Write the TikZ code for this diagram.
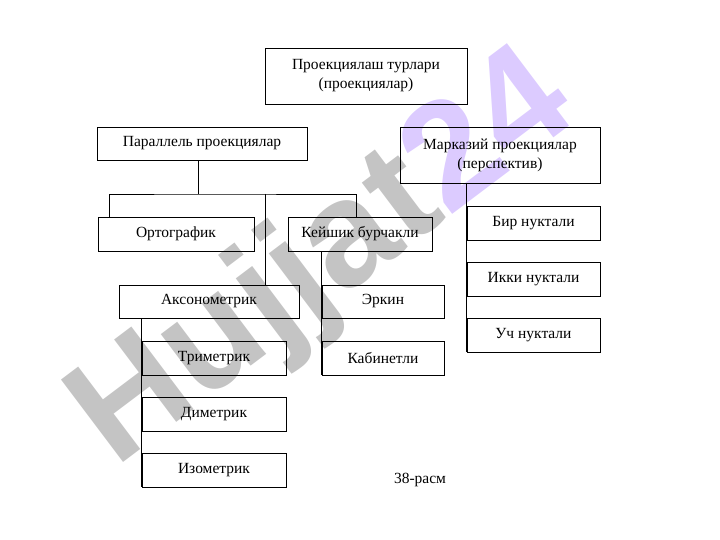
\documentclass[tikz,border=0pt]{standalone}
\usepackage{fontspec}
\setmainfont{Liberation Serif}
\newfontfamily\wm{Liberation Sans}
\begin{document}
\begin{tikzpicture}[x=1pt,y=-1pt,
  bx/.style={draw,line width=0.8pt,font=\fontsize{15.5}{19}\selectfont,align=center},
  ln/.style={line width=0.8pt}]
\useasboundingbox (0,0) rectangle (720,540);
\node[rotate=37,font=\wm\bfseries\fontsize{150}{150}\selectfont,inner sep=0] (wmk) at (325,262)
  {\textcolor[HTML]{C4C4C4}{Hujjat}\textcolor[HTML]{DCCBFF}{24}};
\newcommand\bxx[6]{\node[bx,minimum width=#4-#2,minimum height=#5-#3,inner sep=0] (#1) at ({(#2+#4)/2},{(#3+#5)/2}) {#6};}
\bxx{top}{265}{48}{467}{104}{Проекциялаш турлари\\(проекциялар)}
\bxx{par}{97}{127}{307}{160}{Параллель проекциялар}
\bxx{mar}{400}{127}{600}{183}{Марказий проекциялар\\(перспектив)}
\bxx{ort}{98}{217}{254}{251}{Ортографик}
\bxx{key}{288}{217}{432}{251}{Кейшик бурчакли}
\bxx{aks}{119}{285}{299}{318}{Аксонометрик}
\bxx{erk}{322}{285}{444}{318}{Эркин}
\bxx{kab}{322}{341}{444}{375}{Кабинетли}
\bxx{tri}{142}{341}{286}{375}{Триметрик}
\bxx{dim}{142}{397}{286}{431}{Диметрик}
\bxx{izo}{142}{453}{286}{487}{Изометрик}
\bxx{bir}{467}{206}{600}{240}{Бир нуктали}
\bxx{ikk}{467}{262}{600}{296}{Икки нуктали}
\bxx{uch}{467}{318}{600}{352}{Уч нуктали}
\node[font=\fontsize{15.5}{19}\selectfont] (cap) at (420,480) {38-расм};
\draw[ln] (par.south -| 198,0) -- (198,194) coordinate (bus);
\draw[ln] (ort.north -| 109,0) |- (bus) -| (key.north -| 356,0);
\draw[ln] (265,194) -- (aks.north -| 265,0);
\draw[ln] (key.south -| erk.west) -- (kab.south west);
\draw[ln] (aks.south -| tri.west) -- (izo.south west);
\draw[ln] (mar.south -| bir.west) -- (uch.south west);
\end{tikzpicture}
\end{document}
